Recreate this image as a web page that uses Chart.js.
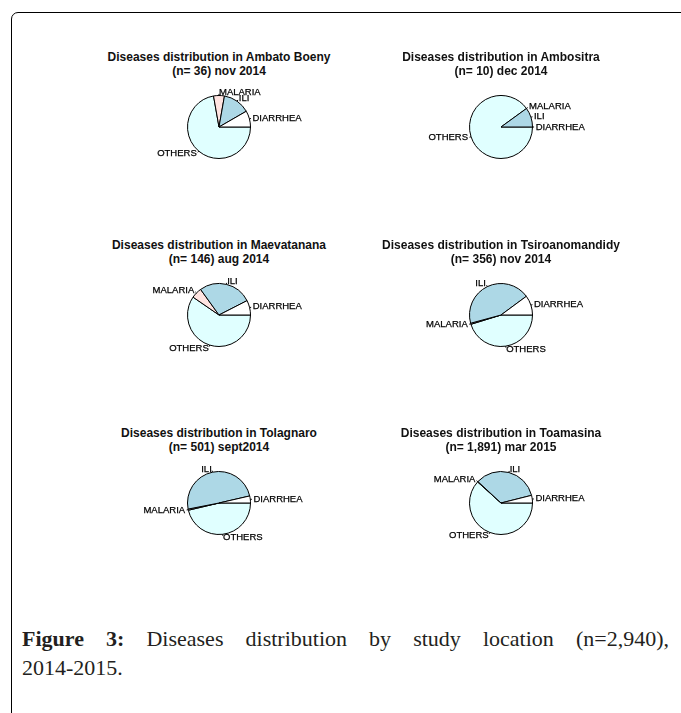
<!DOCTYPE html>
<html>
<head>
<meta charset="utf-8">
<script src="https://cdn.jsdelivr.net/npm/chart.js@4"></script>
<style>
  html, body { margin: 0; padding: 0; background: #fff; width: 681px; height: 713px; overflow: hidden; position: relative; }
  .frame { position: absolute; left: 11px; top: 12px; width: 740px; height: 780px; border: 1.5px solid #000; border-radius: 7px; }
  .panel { position: absolute; }
  .ptitle { position: absolute; width: 300px; text-align: center; font-family: "Liberation Sans", Arial, sans-serif; font-size: 12px; font-weight: bold; line-height: 13.5px; color: #111; }
  .caption { position: absolute; left: 22px; width: 647px; font-family: "Liberation Serif", "Times New Roman", serif; font-size: 22px; line-height: 29px; color: #231f20; white-space: nowrap; }
  .caption.first { text-align: justify; text-align-last: justify; white-space: normal; }
  .caption b { font-weight: bold; }
</style>
</head>
<body>
<div class="frame"></div>
<div id="panels"></div>
<div class="caption first" style="top:624px"><b>Figure 3:</b> Diseases distribution by study location (n=2,940),</div>
<div class="caption" style="top:653px">2014-2015.</div>
<script>
(function () {
  // categorias en el orden de R (antihorario desde las 3 en punto)
  const categories = ['DIARRHEA', 'ILI', 'MALARIA', 'OTHERS'];
  const sliceColors = ['#FFFFFF', '#ADD8E6', '#FFE4E1', '#E0FFFF'];

  const locations = ['Ambato Boeny', 'Ambositra', 'Maevatanana', 'Tsiroanomandidy', 'Tolagnaro', 'Toamasina'];
  const periods = ['(n= 36) nov 2014', '(n= 10) dec 2014', '(n= 146) aug 2014', '(n= 356) nov 2014', '(n= 501) sept2014', '(n= 1,891) mar 2015'];

  const ambatoBoeny     = [3, 5, 2, 26];
  const ambositra       = [0, 1, 0, 9];
  const maevatanana     = [11, 40, 8, 87];
  const tsiroanomandidy = [36, 157, 2, 161];
  const tolagnaro       = [18, 248, 3, 232];
  const toamasina       = [74, 646, 5, 1166];
  const allValues = [ambatoBoeny, ambositra, maevatanana, tsiroanomandidy, tolagnaro, toamasina];

  const centersX = [219, 501, 219, 501, 219, 501];
  const panelTops = [50, 50, 238, 238, 426, 426];
  const PANEL_W = 300;
  const PANEL_H = 175;

  // etiquetas fuera del pastel, como pie() de R
  const pieLabels = {
    id: 'pieLabels',
    afterDatasetsDraw(chart) {
      const ctx = chart.ctx;
      const meta = chart.getDatasetMeta(0);
      ctx.save();
      ctx.font = '9.5px "Liberation Sans", Arial, sans-serif';
      ctx.fillStyle = '#000';
      ctx.strokeStyle = '#000';
      ctx.lineWidth = 1;
      ctx.textBaseline = 'middle';
      meta.data.forEach((arc, i) => {
        const p = arc.getProps(['x', 'y', 'startAngle', 'endAngle', 'outerRadius'], true);
        const mid = (p.startAngle + p.endAngle) / 2;
        const c = Math.cos(mid), s = Math.sin(mid);
        const r = p.outerRadius;
        ctx.beginPath();
        ctx.moveTo(p.x + c * r, p.y + s * r);
        ctx.lineTo(p.x + c * r * 1.05, p.y + s * r * 1.05);
        ctx.stroke();
        ctx.textAlign = c < -1e-6 ? 'right' : 'left';
        const tx = p.x + c * r * 1.1, ty = p.y + s * r * 1.1;
        ctx.fillText(chart.data.labels[i], tx, ty);
        // trazo fino para engrosar un poco el texto, como en el original
        ctx.lineWidth = 0.25;
        ctx.strokeText(chart.data.labels[i], tx, ty);
        ctx.lineWidth = 1;
      });
      ctx.restore();
    }
  };

  const host = document.getElementById('panels');

  allValues.forEach((values, k) => {
    const title = document.createElement('div');
    title.className = 'ptitle';
    title.style.left = (centersX[k] - PANEL_W / 2) + 'px';
    title.style.top = (panelTops[k] + 1) + 'px';
    title.innerHTML = 'Diseases distribution in ' + locations[k] + '<br>' + periods[k];
    host.appendChild(title);

    const canvas = document.createElement('canvas');
    canvas.className = 'panel';
    canvas.width = PANEL_W;
    canvas.height = PANEL_H;
    canvas.style.left = (centersX[k] - PANEL_W / 2) + 'px';
    canvas.style.top = panelTops[k] + 'px';
    host.appendChild(canvas);

    // Chart.js dibuja en sentido horario: invertir para imitar R
    new Chart(canvas, {
      type: 'pie',
      data: {
        labels: categories.slice().reverse(),
        datasets: [{
          data: values.slice().reverse(),
          backgroundColor: sliceColors.slice().reverse(),
          borderColor: '#000',
          borderWidth: 1
        }]
      },
      options: {
        responsive: false,
        animation: false,
        rotation: 90,
        layout: { padding: { top: 45, bottom: 66, left: 118, right: 118 } },
        plugins: {
          legend: { display: false },
          tooltip: { enabled: false },
          title: { display: false }
        }
      },
      plugins: [pieLabels]
    });
  });
})();
</script>
</body>
</html>
